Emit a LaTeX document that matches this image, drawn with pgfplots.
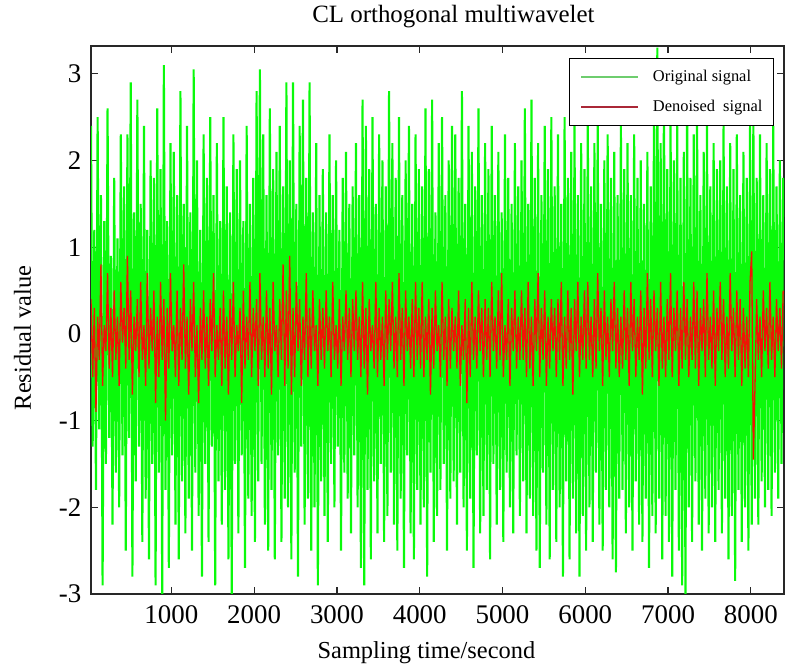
\documentclass[border=0pt]{standalone}
\usepackage{pgfplots}
\pgfplotsset{compat=1.18}
\usepackage{fontspec}
\setmainfont{Liberation Serif}
\definecolor{sigGreen}{RGB}{10,250,10}
\definecolor{sigRed}{RGB}{240,20,5}
\definecolor{legGreen}{RGB}{110,205,110}
\definecolor{legRed}{RGB}{170,40,55}
\definecolor{axisGray}{RGB}{40,40,40}

\begin{document}
\begin{tikzpicture}
\useasboundingbox (0,0) rectangle (789bp,669bp);
\begin{axis}[
  at={(91bp,75bp)}, anchor=south west,
  scale only axis, width=693bp, height=548bp,
  xmin=30, xmax=8400, ymin=-3, ymax=3.32,
  xtick={1000,2000,...,8000},
  ytick={-3,-2,...,3},
  tick align=inside, major tick length=7bp,
  axis line style={color=axisGray, line width=1.3bp},
  every tick/.style={color=axisGray, line width=1.2bp},
  /pgf/number format/assume math mode=true,
  /pgf/number format/set thousands separator={},
  ticklabel style={font=\fontsize{27}{30}\selectfont, inner sep=0pt},
  xticklabel style={yshift=-11bp},
  yticklabel style={xshift=-9.5bp},
  title={CL orthogonal multiwavelet},
  title style={at={(axis description cs:0.523,1)}, anchor=base, yshift=18bp, inner sep=0pt, font=\fontsize{25}{28}\selectfont},
  xlabel={Sampling time/second},
  xlabel style={at={(axis description cs:0.484,0)}, anchor=base, yshift=-64bp, inner sep=0pt, font=\fontsize{24.5}{28}\selectfont},
  ylabel={Residual value},
  ylabel style={at={(axis description cs:-0.0866,0.467)}, anchor=base, inner sep=0pt, font=\fontsize{24.5}{28}\selectfont},
  legend style={at={(axis description cs:0.9856,0.978)}, anchor=north east,
    draw=black, line width=1bp, inner xsep=11bp, inner ysep=12bp,
    font=\fontsize{16.5}{19}\selectfont, row sep=17bp, column sep=14bp,
    nodes={inner sep=0pt}},
  legend cell align=left,
  legend image code/.code={\draw[#1] (0bp,0bp) -- (57bp,0bp);},
]
\addlegendimage{color=legGreen, line width=1.6bp}
\addlegendentry{Original signal}
\addlegendimage{color=legRed, line width=1.6bp}
\addlegendentry{Denoised\ \ signal}

% original signal (every 20th sample)
\addplot[color=sigGreen, line width=2.1bp, line join=bevel, forget plot] table[row sep=\\, header=false, x expr=\coordindex*20+30, y index=0] {
2.4\\-1.3\\1.2\\-1.8\\2.5\\-1.1\\1.6\\-2.9\\1.3\\-1.5\\2.6\\-1.2\\0.9\\-2.2\\1.8\\-1.6\\1.1\\-2.0\\2.3\\-1.4\\
1.7\\-2.5\\2.3\\-1.2\\2.9\\-2.8\\1.4\\-1.7\\2.7\\-1.3\\1.5\\-2.4\\2.4\\-1.9\\1.2\\-2.6\\2.0\\-1.5\\1.8\\-2.9\\
2.6\\-1.6\\1.9\\-3.0\\3.1\\-1.8\\1.3\\-2.7\\2.2\\-1.4\\2.1\\-2.2\\1.6\\-2.6\\2.8\\-1.7\\1.5\\-2.3\\2.4\\-1.9\\
1.4\\-2.5\\3.05\\-1.6\\2.0\\-2.1\\1.2\\-2.8\\2.3\\-1.5\\1.8\\-2.4\\2.5\\-1.3\\1.6\\-2.9\\2.2\\-1.7\\1.3\\-2.2\\
2.5\\-1.8\\1.7\\-2.6\\1.4\\-3.0\\2.3\\-1.5\\1.9\\-2.3\\2.0\\-1.4\\1.3\\-2.7\\2.4\\-1.9\\1.5\\-2.1\\1.8\\-2.4\\
2.8\\-1.7\\3.05\\-1.5\\2.3\\-2.2\\1.6\\-2.5\\2.6\\-1.8\\1.9\\-2.6\\2.1\\-1.4\\2.4\\-2.4\\1.7\\-1.9\\2.9\\-2.0\\
2.0\\-2.6\\2.9\\-1.6\\1.5\\-2.8\\2.4\\-1.3\\2.7\\-2.2\\1.8\\-1.9\\2.9\\-2.5\\1.4\\-2.0\\2.2\\-2.9\\1.6\\-1.7\\
1.9\\-2.1\\1.4\\-2.4\\2.3\\-1.5\\1.6\\-2.0\\2.0\\-1.3\\1.2\\-2.5\\1.8\\-1.6\\2.1\\-1.9\\1.5\\-2.3\\1.7\\-1.4\\
2.2\\-2.0\\1.6\\-2.7\\2.7\\-2.9\\2.4\\-1.8\\1.9\\-2.6\\2.5\\-1.7\\1.5\\-2.3\\2.3\\-1.5\\2.0\\-2.4\\1.7\\-2.1\\
2.8\\-1.6\\2.2\\-2.2\\1.8\\-2.5\\2.5\\-1.9\\1.6\\-2.7\\2.0\\-1.4\\2.4\\-2.3\\1.5\\-2.6\\2.3\\-1.8\\1.9\\-2.2\\
1.7\\-2.0\\2.6\\-2.8\\1.9\\-1.6\\2.7\\-2.4\\1.4\\-2.1\\2.2\\-1.8\\2.5\\-1.5\\1.6\\-2.5\\2.0\\-1.9\\2.4\\-1.7\\
2.3\\-2.2\\1.8\\-1.6\\2.8\\-2.0\\1.5\\-2.5\\2.4\\-1.9\\2.1\\-2.7\\1.7\\-1.4\\2.6\\-2.3\\1.6\\-2.1\\2.2\\-1.8\\
1.9\\-2.6\\2.4\\-1.5\\1.6\\-2.2\\2.1\\-1.8\\1.4\\-2.4\\2.3\\-1.6\\1.8\\-2.0\\1.5\\-2.3\\2.2\\-1.4\\1.7\\-2.1\\
2.0\\-1.7\\2.6\\-2.3\\1.5\\-1.9\\2.7\\-2.1\\1.8\\-2.5\\2.2\\-2.7\\1.6\\-1.6\\2.4\\-2.2\\1.9\\-2.6\\2.5\\-1.8\\
1.7\\-2.4\\2.3\\-2.0\\1.5\\-2.8\\2.5\\-1.7\\1.8\\-2.6\\2.1\\-1.9\\2.4\\-2.3\\1.6\\-2.8\\2.2\\-2.1\\1.9\\-2.5\\
2.5\\-2.0\\1.7\\-2.4\\2.2\\-1.6\\2.4\\-2.2\\1.5\\-2.5\\2.0\\-1.8\\2.3\\-2.0\\1.8\\-2.6\\2.1\\-2.75\\1.6\\-1.9\\
2.4\\-1.8\\1.9\\-2.3\\2.2\\-2.0\\1.6\\-2.5\\2.3\\-1.7\\1.8\\-2.2\\2.0\\-2.4\\1.5\\-1.9\\2.1\\-2.7\\1.7\\-2.1\\
2.6\\-2.3\\3.3\\-1.9\\2.2\\-2.6\\2.8\\-2.1\\1.9\\-2.4\\2.5\\-2.8\\2.0\\-1.8\\2.4\\-2.5\\1.8\\-2.9\\2.1\\-3.0\\
2.7\\-2.0\\1.8\\-2.4\\2.3\\-1.7\\2.5\\-2.2\\1.6\\-2.5\\2.1\\-1.9\\2.4\\-2.3\\1.7\\-2.0\\2.2\\-2.4\\1.9\\-1.8\\
2.0\\-2.3\\2.4\\-1.9\\1.7\\-2.6\\2.2\\-2.1\\1.9\\-2.85\\2.3\\-1.8\\1.6\\-2.4\\2.1\\-2.0\\1.8\\-2.5\\2.4\\-2.2\\
2.5\\-1.9\\1.8\\-2.2\\2.3\\-1.7\\1.6\\-2.0\\2.2\\-1.8\\1.9\\-2.1\\2.4\\-1.6\\1.7\\-1.9\\2.0\\-1.5\\1.8\\
};

% denoised signal (every 20th sample)
\addplot[color=sigRed, line width=1.3bp, line join=bevel, forget plot] table[row sep=\\, header=false, x expr=\coordindex*20+30, y index=0] {
0.4\\-0.5\\0.3\\-0.9\\0.2\\-0.3\\0.8\\-0.6\\0.1\\-0.2\\0.7\\-0.4\\0.3\\-0.5\\0.5\\-0.3\\0.2\\-0.6\\0.6\\-0.1\\
0.3\\-0.4\\0.9\\-0.3\\0.5\\-0.7\\0.2\\-0.2\\0.4\\-0.5\\0.6\\-0.3\\0.1\\-0.6\\0.7\\-0.4\\0.3\\-0.2\\0.5\\-0.8\\
0.2\\-0.5\\0.6\\-0.3\\0.4\\-1.0\\0.3\\-0.4\\0.7\\-0.2\\0.1\\-0.5\\0.5\\-0.6\\0.3\\-0.3\\0.8\\-0.4\\0.2\\-0.7\\
0.4\\-0.2\\0.6\\-0.5\\0.1\\-0.8\\0.3\\-0.3\\0.5\\-0.4\\0.2\\-0.6\\0.4\\-0.2\\0.7\\-0.5\\0.1\\-0.3\\0.3\\-0.6\\
0.5\\-0.4\\0.2\\-0.7\\0.4\\-0.3\\0.6\\-0.5\\0.1\\-0.2\\0.3\\-0.8\\0.5\\-0.4\\0.2\\-0.3\\0.6\\-0.5\\0.3\\-0.2\\
0.4\\-0.6\\0.7\\-0.3\\0.2\\-0.5\\0.5\\-0.4\\0.3\\-0.7\\0.6\\-0.2\\0.1\\-0.5\\0.4\\-0.3\\0.8\\-0.6\\0.5\\-0.4\\
0.9\\-0.7\\0.3\\-0.5\\0.6\\-0.2\\0.4\\-0.6\\0.2\\-0.3\\0.7\\-0.5\\0.3\\-0.4\\0.5\\-0.2\\0.1\\-0.6\\0.4\\-0.3\\
0.3\\-0.4\\0.5\\-0.2\\0.2\\-0.5\\0.6\\-0.3\\0.1\\-0.4\\0.4\\-0.6\\0.2\\-0.2\\0.5\\-0.3\\0.3\\-0.5\\0.4\\-0.2\\
0.5\\-0.3\\0.2\\-0.5\\0.6\\-0.4\\0.3\\-0.7\\0.4\\-0.2\\0.1\\-0.4\\0.6\\-0.5\\0.3\\-0.3\\0.2\\-0.6\\0.5\\-0.3\\
0.4\\-0.2\\0.6\\-0.4\\0.2\\-0.5\\0.7\\-0.3\\0.3\\-0.6\\0.5\\-0.2\\0.2\\-0.4\\0.4\\-0.5\\0.6\\-0.3\\0.3\\-0.4\\
0.6\\-0.5\\0.2\\-0.3\\0.4\\-0.7\\0.3\\-0.4\\0.5\\-0.2\\0.1\\-0.5\\0.6\\-0.3\\0.2\\-0.6\\0.4\\-0.4\\0.3\\-0.2\\
0.2\\-0.4\\0.5\\-0.6\\0.1\\-0.3\\0.4\\-0.8\\0.3\\-0.5\\0.6\\-0.3\\0.2\\-0.4\\0.5\\-0.2\\0.3\\-0.5\\0.4\\-0.3\\
0.3\\-0.5\\0.6\\-0.2\\0.2\\-0.4\\0.5\\-0.3\\0.7\\-0.5\\0.1\\-0.3\\0.4\\-0.6\\0.3\\-0.2\\0.5\\-0.4\\0.2\\-0.3\\
0.5\\-0.3\\0.3\\-0.5\\0.6\\-0.4\\0.2\\-0.6\\0.4\\-0.2\\0.7\\-0.5\\0.3\\-0.3\\0.5\\-0.6\\0.2\\-0.4\\0.4\\-0.2\\
0.3\\-0.5\\0.4\\-0.3\\0.6\\-0.6\\0.2\\-0.4\\0.5\\-0.3\\0.3\\-0.7\\0.4\\-0.2\\0.6\\-0.5\\0.2\\-0.3\\0.5\\-0.4\\
0.6\\-0.3\\0.2\\-0.5\\0.4\\-0.4\\0.7\\-0.2\\0.3\\-0.6\\0.5\\-0.3\\0.2\\-0.5\\0.4\\-0.2\\0.6\\-0.4\\0.3\\-0.5\\
0.2\\-0.4\\0.5\\-0.3\\0.3\\-0.6\\0.6\\-0.2\\0.4\\-0.5\\0.2\\-0.3\\0.5\\-0.7\\0.3\\-0.4\\0.7\\-0.3\\0.4\\-0.5\\
0.5\\-0.2\\0.3\\-0.6\\0.6\\-0.4\\0.2\\-0.5\\0.4\\-0.3\\0.7\\-0.5\\0.3\\-0.2\\0.5\\-0.6\\0.3\\-0.4\\0.6\\-0.3\\
0.4\\-0.5\\0.2\\-0.3\\0.6\\-0.4\\0.5\\-0.6\\0.3\\-0.2\\0.4\\-0.5\\0.7\\-0.3\\0.2\\-0.4\\0.5\\-0.6\\0.3\\-0.2\\
0.6\\-0.3\\0.4\\-0.5\\0.2\\-0.4\\0.7\\-0.2\\0.3\\-0.5\\0.5\\-0.3\\0.4\\-0.6\\0.3\\-0.4\\0.2\\-0.5\\0.6\\0.95\\
-1.45\\-0.6\\0.4\\-0.3\\0.2\\-0.5\\0.5\\-0.2\\0.3\\-0.4\\0.6\\-0.3\\0.2\\-0.5\\0.4\\-0.2\\0.3\\-0.4\\0.5\\
};
\end{axis}
\end{tikzpicture}
\end{document}
